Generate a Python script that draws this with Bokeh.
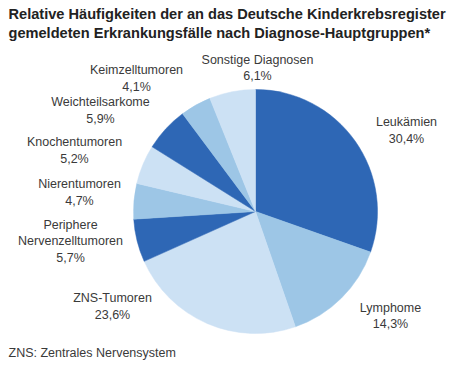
import math
from bokeh.plotting import figure
from bokeh.models import ColumnDataSource, Range1d
from bokeh.core.properties import value
from bokeh.embed import file_html
from bokeh.resources import INLINE

categories = ["Leukämien", "Lymphome", "ZNS-Tumoren", "Periphere\nNervenzelltumoren",
              "Nierentumoren", "Knochentumoren", "Weichteilsarkome", "Keimzelltumoren",
              "Sonstige Diagnosen"]
percent = [30.4, 14.3, 23.6, 5.7, 4.7, 5.2, 5.9, 4.1, 6.1]
pct_labels = ["30,4%", "14,3%", "23,6%", "5,7%", "4,7%", "5,2%", "5,9%", "4,1%", "6,1%"]

DARK, MID, LIGHT = "#2E67B5", "#9DC6E6", "#CCE1F4"
colors = [DARK, MID, LIGHT, DARK, MID, LIGHT, DARK, MID, LIGHT]

# label block centers in page pixels (layout only)
label_px = [(406, 130), (390, 315.5), (112, 306), (70, 241), (79, 192),
            (74, 150), (100, 110), (136, 78), (257, 67.5)]

W, H = 459, 365
def px(X, Y):
    return X, H - Y

cx, cy = px(255, 211)
R = 122

total = sum(percent)
starts, ends = [], []
a = math.pi / 2
for v in percent:
    starts.append(a)
    a = a - v / total * 2 * math.pi
    ends.append(a)

src = ColumnDataSource(dict(start=starts, end=ends, color=colors))

p = figure(width=W, height=H, output_backend="svg", toolbar_location=None,
           x_range=Range1d(0, W), y_range=Range1d(0, H), min_border=0)
p.axis.visible = False
p.grid.visible = False
p.outline_line_color = None
p.background_fill_color = "white"

p.wedge(x=cx, y=cy, radius=R, start_angle="start", end_angle="end", direction="clock",
        fill_color="color", line_color="color", line_width=0.5, source=src)

lx = [px(X, Y)[0] for X, Y in label_px]
ly = [px(X, Y)[1] for X, Y in label_px]
texts = [c + "\n" + t for c, t in zip(categories, pct_labels)]
lsrc = ColumnDataSource(dict(x=lx, y=ly, text=texts))
p.text(x="x", y="y", text="text", source=lsrc, text_align="center", text_baseline="middle",
       text_font=value("Liberation Sans"), text_font_size="12.5px", text_color="#3a3a3a",
       text_line_height=1.2)

title_lines = ["Relative Häufigkeiten der an das Deutsche Kinderkrebsregister",
               "gemeldeten Erkrankungsfälle nach Diagnose-Hauptgruppen*"]
tx = [px(8, 13)[0], px(8, 32)[0]]
ty = [px(8, 13)[1], px(8, 32)[1]]
p.text(x=tx, y=ty, text=title_lines, text_align="left", text_baseline="middle",
       text_font=value("Liberation Sans"), text_font_size="14.6px", text_font_style="bold",
       text_color="#222222")

fx, fy = px(8, 352)
p.text(x=[fx], y=[fy], text=["ZNS: Zentrales Nervensystem"], text_align="left",
       text_baseline="middle", text_font=value("Liberation Sans"), text_font_size="12.5px",
       text_color="#3a3a3a")

open("out.html", "w").write(file_html(p, INLINE))
